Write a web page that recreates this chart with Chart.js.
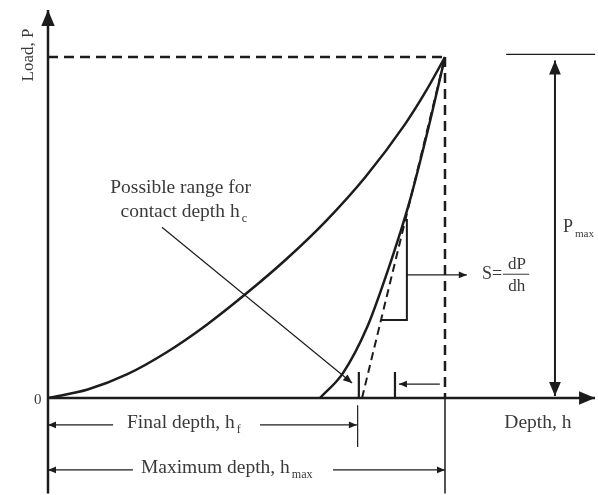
<!DOCTYPE html>
<html>
<head>
<meta charset="utf-8">
<script src="https://cdn.jsdelivr.net/npm/chart.js@4.4.0/dist/chart.umd.min.js"></script>
<style>
  html, body { margin: 0; padding: 0; background: #fff; }
  #wrap { width: 598px; height: 495px; }
</style>
</head>
<body>
<div id="wrap"><canvas id="myChart"></canvas></div>
<script>
// depth and load are normalised: h_max = 100, P_max = 100
const loadingDepth = [0, 10, 20, 30, 40, 50, 60, 70, 80, 90, 95, 100];
const loadingLoad  = [0, 2.5, 7.0, 13.5, 21.5, 30.7, 40.7, 51.9, 64.9, 80.4, 89.6, 100];

const unloadingDepth = [68.5, 74.3, 80.4, 85.4, 88.7, 91.2, 95.7, 100];
const unloadingLoad  = [0, 7.3, 20.8, 36.7, 48.4, 58.1, 78.6, 100];

const tangentDepth = [79.1, 100];
const tangentLoad  = [0, 100];

const hMax = 100;
const pMax = 100;
const hFinal = 77.8;
const hcMarks = [78.3, 87.4];

const INK = '#1c1c1c';
const TXT = '#3a3a3a';
const SERIF = '"Liberation Serif", "Times New Roman", serif';

function seg(xs, ys, opts) {
  return Object.assign({
    data: xs.map((x, i) => ({ x: x, y: ys[i] })),
    showLine: true,
    borderColor: INK,
    borderWidth: 1.5,
    pointRadius: 0,
    fill: false
  }, opts || {});
}

const datasets = [
  // axes
  seg([0, 0], [-28, 113.8], { borderWidth: 2.5, arrowEnd: 16 }),
  seg([0, 137.8], [0, 0], { borderWidth: 2.5, arrowEnd: 16 }),
  // dashed guides to the peak
  seg([0, hMax], [pMax, pMax], { borderWidth: 2.5, borderDash: [10, 6] }),
  seg([hMax, hMax], [pMax, 0], { borderWidth: 2.5, borderDash: [10, 6] }),
  seg([hMax, hMax], [0, -28], { borderWidth: 1.5 }),
  // loading and unloading curves
  seg(loadingDepth, loadingLoad, { borderWidth: 2.5, cubicInterpolationMode: 'monotone' }),
  seg(unloadingDepth, unloadingLoad, { borderWidth: 2.5, cubicInterpolationMode: 'monotone' }),
  // tangent (stiffness)
  seg(tangentDepth, tangentLoad, { borderWidth: 2, borderDash: [8, 5] }),
  // slope triangle
  seg([83.9, 90.4, 90.4], [22.9, 22.9, 52.5], { borderWidth: 2 }),
  seg([90.4, 105.5], [36.1, 36.1], { borderWidth: 1.2, arrowEnd: 8 }),
  // contact depth range marks
  seg([hcMarks[0], hcMarks[0]], [7.6, 0], { borderWidth: 2.2 }),
  seg([hcMarks[1], hcMarks[1]], [7.6, 0], { borderWidth: 2.2 }),
  seg([98.7, 88.4], [4.1, 4.1], { borderWidth: 1.2, arrowEnd: 8 }),
  // callout arrow
  seg([28.7, 76.6], [50.1, 4.4], { borderWidth: 1.2, arrowEnd: 9 }),
  // P_max dimension
  seg([115.4, 137.8], [100.8, 100.8], { borderWidth: 1.2 }),
  seg([127.7, 127.7], [pMax - 1, 0.6], { borderWidth: 2, arrowEnd: 14, arrowStart: 14 }),
  // final depth dimension
  seg([16.4, 0], [-7.9, -7.9], { borderWidth: 1.2, arrowEnd: 8 }),
  seg([53.4, hFinal], [-7.9, -7.9], { borderWidth: 1.2, arrowEnd: 8 }),
  seg([hFinal + 0.2, hFinal + 0.2], [-2.1, -14.4], { borderWidth: 1.2 }),
  // maximum depth dimension
  seg([21.4, 0], [-21.1, -21.1], { borderWidth: 1.2, arrowEnd: 8 }),
  seg([71.8, hMax], [-21.1, -21.1], { borderWidth: 1.2, arrowEnd: 8 })
];

const labels = [
  { x: -5.0, y: 100.6, rot: true, size: 17, parts: [['Load, P']] },
  { x: -2.6, y: -0.6, size: 15, parts: [['0']] },
  { x: 33.4, y: 61.6, size: 19.5, parts: [['Possible range for']] },
  { x: 34.2, y: 54.6, size: 19.5, parts: [['contact depth h'], ['c', 1]] },
  { x: 109.3, y: 36.3, size: 18, align: 'left', parts: [['S=']] },
  { x: 118.1, y: 39.2, size: 17, parts: [['dP']] },
  { x: 118.1, y: 32.8, size: 17, parts: [['dh']] },
  { x: 129.7, y: 50.1, size: 18, align: 'left', parts: [['P'], ['max', 1]] },
  { x: 123.4, y: -7.3, size: 19.5, parts: [['Depth, h']] },
  { x: 19.9, y: -7.3, size: 19.5, align: 'left', parts: [['Final depth, h'], ['f', 1]] },
  { x: 23.4, y: -20.5, size: 19.5, align: 'left', parts: [['Maximum depth, h'], ['max', 1]] }
];

const arrowPlugin = {
  id: 'arrows',
  afterDatasetsDraw(chart) {
    const ctx = chart.ctx;
    chart.data.datasets.forEach((ds, i) => {
      const pts = chart.getDatasetMeta(i).data;
      const head = (tip, from, size) => {
        const a = Math.atan2(tip.y - from.y, tip.x - from.x);
        const w = size * 0.42;
        ctx.save();
        ctx.fillStyle = INK;
        ctx.beginPath();
        ctx.moveTo(tip.x, tip.y);
        ctx.lineTo(tip.x - size * Math.cos(a) + w * Math.sin(a), tip.y - size * Math.sin(a) - w * Math.cos(a));
        ctx.lineTo(tip.x - size * Math.cos(a) - w * Math.sin(a), tip.y - size * Math.sin(a) + w * Math.cos(a));
        ctx.closePath();
        ctx.fill();
        ctx.restore();
      };
      if (ds.arrowEnd) head(pts[pts.length - 1], pts[pts.length - 2], ds.arrowEnd);
      if (ds.arrowStart) head(pts[0], pts[1], ds.arrowStart);
    });
  }
};

const textPlugin = {
  id: 'texts',
  afterDraw(chart) {
    const ctx = chart.ctx;
    const xs = chart.scales.x, ys = chart.scales.y;
    labels.forEach(l => {
      const px = xs.getPixelForValue(l.x), py = ys.getPixelForValue(l.y);
      ctx.save();
      ctx.fillStyle = TXT;
      ctx.textBaseline = 'middle';
      ctx.translate(px, py);
      if (l.rot) ctx.rotate(-Math.PI / 2);
      let total = 0;
      l.parts.forEach(p => {
        ctx.font = (p[1] ? l.size * 0.62 : l.size) + 'px ' + SERIF;
        total += ctx.measureText(p[0]).width + (p[1] ? 2 : 0);
      });
      let cx = l.align === 'left' ? 0 : -total / 2;
      l.parts.forEach(p => {
        ctx.font = (p[1] ? l.size * 0.62 : l.size) + 'px ' + SERIF;
        ctx.textAlign = 'left';
        if (p[1]) cx += 2;
        ctx.fillText(p[0], cx, p[1] ? l.size * 0.36 : 0);
        cx += ctx.measureText(p[0]).width;
      });
      ctx.restore();
    });
    // fraction bar of dP/dh
    ctx.save();
    ctx.strokeStyle = TXT;
    ctx.lineWidth = 1;
    ctx.beginPath();
    const by = ys.getPixelForValue(36.3);
    ctx.moveTo(xs.getPixelForValue(114.6), by);
    ctx.lineTo(xs.getPixelForValue(121.2), by);
    ctx.stroke();
    ctx.restore();
  }
};

new Chart(document.getElementById('myChart'), {
  type: 'scatter',
  data: { datasets: datasets },
  options: {
    responsive: true,
    maintainAspectRatio: false,
    devicePixelRatio: 1,
    animation: false,
    layout: { padding: 0 },
    plugins: { legend: { display: false }, tooltip: { enabled: false } },
    scales: {
      x: { type: 'linear', display: false, min: -12.09, max: 138.54 },
      y: { type: 'linear', display: false, min: -28.44, max: 116.72 }
    }
  },
  plugins: [arrowPlugin, textPlugin]
});
</script>
</body>
</html>
